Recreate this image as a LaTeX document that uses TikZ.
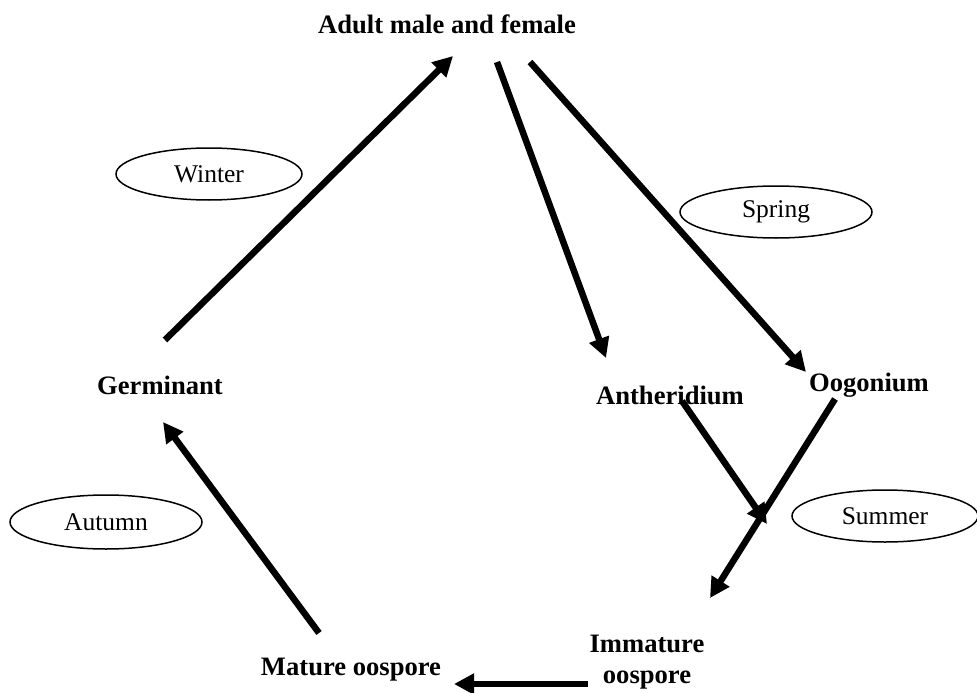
\documentclass[tikz,border=0pt]{standalone}
\usepackage{fontspec}
\setmainfont{Liberation Serif}
\usetikzlibrary{arrows.meta,shapes.geometric}
\begin{document}
\begin{tikzpicture}[x=1pt,y=-1pt,
  stage/.style={font=\bfseries\fontsize{26.6}{31}\selectfont,inner sep=0pt,align=center},
  season/.style={draw,ellipse,line width=1.5pt,inner sep=0pt,font=\fontsize{25.5}{30}\selectfont},
  flow/.style={line width=6.5pt,-{Triangle[length=20pt,width=20pt]}}]
\useasboundingbox (0,0) rectangle (977,693);
\node[stage] (adult) at (447,24) {Adult male and female};
\node[stage] (germ) at (160,385) {Germinant};
\node[stage] (anth) at (670,395) {Antheridium};
\node[stage] (oog) at (869,385) {Oogonium};
\node[stage] (imm) at (647,662) {Immature\\oospore};
\node[stage] (mat) at (351,670) {Mature oospore};
\node[season,minimum width=186pt,minimum height=52pt] (winter) at (209,174) {Winter};
\node[season,minimum width=192pt,minimum height=52pt] (spring) at (776,212) {Spring};
\node[season,minimum width=192pt,minimum height=54pt] (autumn) at (106,522) {Autumn};
\node[season,minimum width=186pt,minimum height=52pt] (summer) at (885,516) {Summer};
\coordinate (g1) at (165,340);
\coordinate (a0) at (453,56);
\coordinate (a1) at (497,62);
\coordinate (a2) at (530,62);
\coordinate (an0) at (606,358);
\coordinate (o0) at (806,372);
\coordinate (an1) at (682,401);
\coordinate (join) at (767,524);
\coordinate (o1) at (835,399);
\coordinate (i0) at (710,598);
\coordinate (i1) at (588,684);
\coordinate (m0) at (454,684);
\coordinate (m1) at (319,633);
\coordinate (g0) at (163,422);
\draw[flow] (g1) -- (a0);
\draw[flow] (a1) -- (an0);
\draw[flow] (a2) -- (o0);
\draw[flow] (an1) -- (join);
\draw[flow] (o1) -- (i0);
\draw[flow] (i1) -- (m0);
\draw[flow] (m1) -- (g0);
\end{tikzpicture}
\end{document}
